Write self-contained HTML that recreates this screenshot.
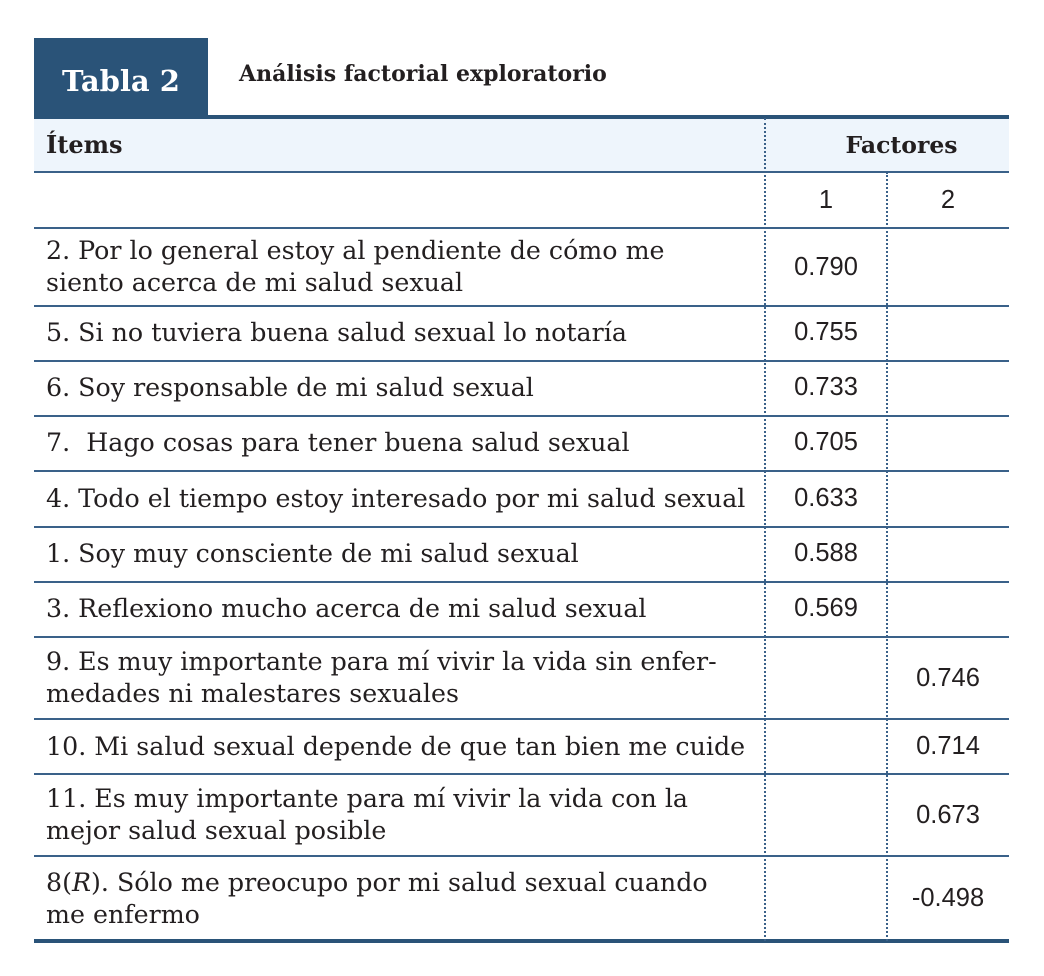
<!DOCTYPE html>
<html><head><meta charset="utf-8"><style>
body{margin:0;width:1044px;height:976px;background:#fff;position:relative;font-family:"DejaVu Serif",serif;color:#231f20;overflow:hidden}
.a{position:absolute}
.tab{left:34px;top:38px;width:174px;height:79px;background:#2a5378;color:#fff;font-weight:bold;font-size:29px;text-align:center;line-height:86px}
.hdr{left:34px;top:118px;width:975px;height:54px;background:#eef5fc}
.hl{left:34px;width:975px;height:2px;background:#3a6189}
.vl{top:118px;height:823px;border-left:2px dotted #3a6189}
.t{left:46px;font-size:25.3px;line-height:32px;white-space:nowrap}
.n{font-family:"Liberation Sans",sans-serif;font-size:25.5px;text-align:center;width:120px}
</style></head><body>
<div class="a tab">Tabla 2</div>
<div class="a" style="left:239px;top:61px;font-weight:bold;font-size:22px">Análisis factorial exploratorio</div>
<div class="a hdr"></div>
<div class="a hl" style="top:115px;height:4px;background:#2a5378"></div>
<div class="a hl" style="top:171px"></div>
<div class="a hl" style="top:227px"></div>
<div class="a hl" style="top:305px"></div>
<div class="a hl" style="top:360px"></div>
<div class="a hl" style="top:415px"></div>
<div class="a hl" style="top:470px"></div>
<div class="a hl" style="top:526px"></div>
<div class="a hl" style="top:581px"></div>
<div class="a hl" style="top:636px"></div>
<div class="a hl" style="top:718px"></div>
<div class="a hl" style="top:773px"></div>
<div class="a hl" style="top:855px"></div>
<div class="a hl" style="top:939px;height:4px;background:#2a5378"></div>
<div class="a vl" style="left:764px"></div>
<div class="a vl" style="left:886px;top:172px;height:769px"></div>
<div class="a t" style="top:129px;font-weight:bold;font-size:24px">Ítems</div>
<div class="a" style="left:780px;width:243px;text-align:center;top:129px;font-weight:bold;font-size:23.5px;line-height:32px">Factores</div>
<div class="a n" style="left:766px;top:186px">1</div>
<div class="a n" style="left:888px;top:186px">2</div>
<div class="a t" style="top:235px">2. Por lo general estoy al pendiente de cómo me<br>siento acerca de mi salud sexual</div>
<div class="a t" style="top:317px">5. Si no tuviera buena salud sexual lo notaría</div>
<div class="a t" style="top:372px">6. Soy responsable de mi salud sexual</div>
<div class="a t" style="top:427px">7.&nbsp; Hago cosas para tener buena salud sexual</div>
<div class="a t" style="top:483px">4. Todo el tiempo estoy interesado por mi salud sexual</div>
<div class="a t" style="top:538px">1. Soy muy consciente de mi salud sexual</div>
<div class="a t" style="top:593px">3. Reflexiono mucho acerca de mi salud sexual</div>
<div class="a t" style="top:646px">9. Es muy importante para mí vivir la vida sin enfer-<br>medades ni malestares sexuales</div>
<div class="a t" style="top:731px">10. Mi salud sexual depende de que tan bien me cuide</div>
<div class="a t" style="top:783px">11. Es muy importante para mí vivir la vida con la<br>mejor salud sexual posible</div>
<div class="a t" style="top:867px">8(<i>R</i>). Sólo me preocupo por mi salud sexual cuando<br>me enfermo</div>
<div class="a n" style="left:766px;top:253px">0.790</div>
<div class="a n" style="left:766px;top:318px">0.755</div>
<div class="a n" style="left:766px;top:373px">0.733</div>
<div class="a n" style="left:766px;top:428px">0.705</div>
<div class="a n" style="left:766px;top:484px">0.633</div>
<div class="a n" style="left:766px;top:539px">0.588</div>
<div class="a n" style="left:766px;top:594px">0.569</div>
<div class="a n" style="left:888px;top:664px">0.746</div>
<div class="a n" style="left:888px;top:732px">0.714</div>
<div class="a n" style="left:888px;top:801px">0.673</div>
<div class="a n" style="left:888px;top:884px">-0.498</div>
</body></html>
